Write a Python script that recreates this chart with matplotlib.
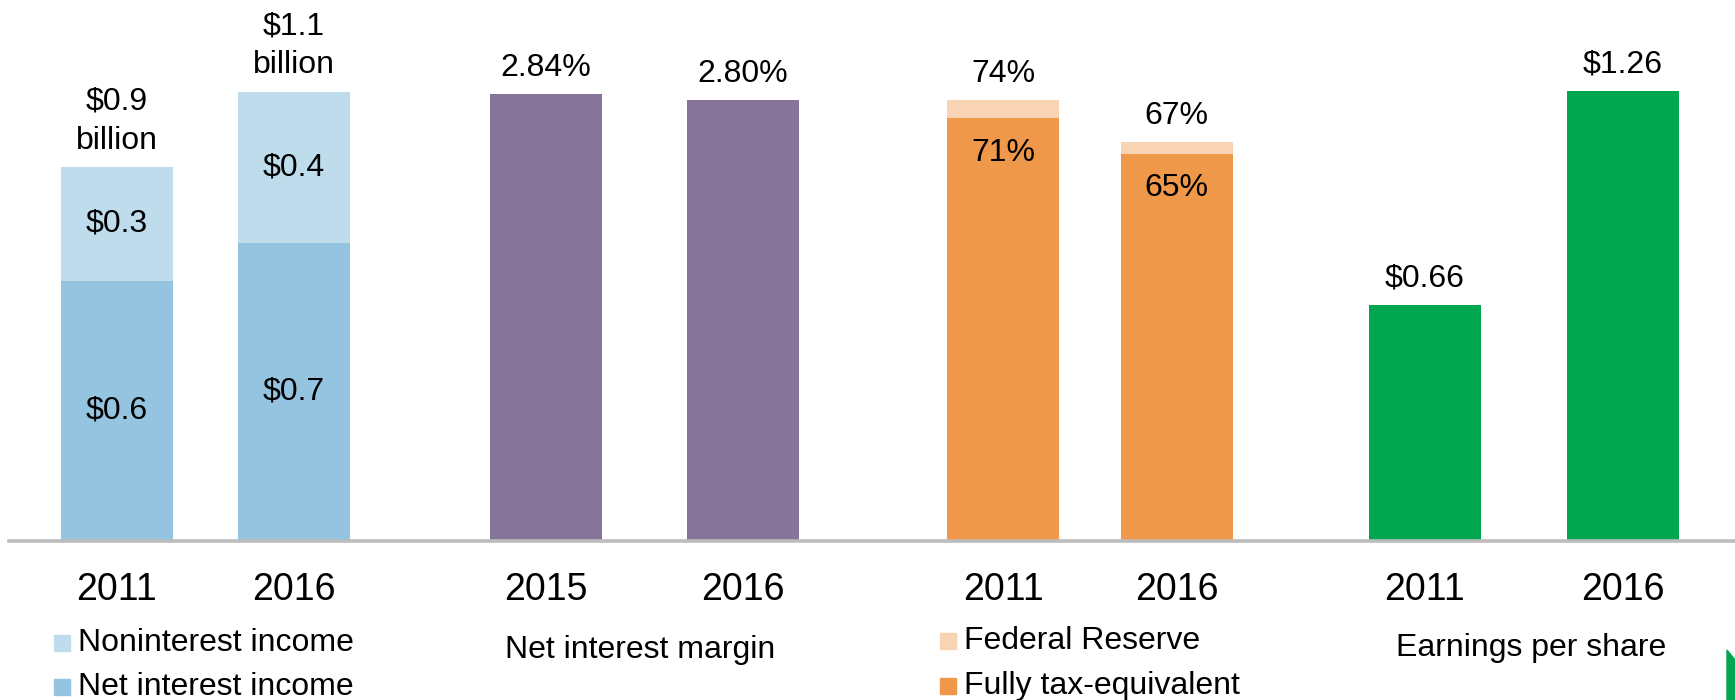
import matplotlib.pyplot as plt
from matplotlib.patches import Rectangle, Polygon
from matplotlib.lines import Line2D

plt.rcParams['font.family'] = ['Liberation Sans', 'DejaVu Sans']

# revenue ($ billions)
rev_years = ['2011', '2016']
net_interest = [0.62, 0.71]
noninterest = [0.27, 0.36]
rev_total_labels = ['$0.9\nbillion', '$1.1\nbillion']
nii_labels = ['$0.6', '$0.7']
nonint_labels = ['$0.3', '$0.4']

# net interest margin (%)
nim_years = ['2015', '2016']
nim = [2.84, 2.80]

# efficiency ratio (%)
eff_years = ['2011', '2016']
eff_fte = [71, 65]
eff_fed = [74, 67]

# earnings per share ($)
eps_years = ['2011', '2016']
eps = [0.66, 1.26]

W, H = 1735, 700
BASE = 541  # baseline, px from top

light_blue = '#bedcec'
dark_blue = '#95c4e1'
purple = '#86749b'
light_orange = '#f9d4b4'
orange = '#f0984a'
green = '#00a650'

fig = plt.figure(figsize=(W / 100, H / 100), dpi=100)


def panel(c0, c1, ymax, labels):
    sp = c1 - c0
    ax = fig.add_axes([(c0 - sp / 2) / W, (H - BASE) / H, 2 * sp / W, BASE / H])
    ax.set_xlim(-0.5, 1.5)
    ax.set_ylim(0, ymax)
    for s in ax.spines.values():
        s.set_visible(False)
    ax.set_yticks([])
    ax.set_xticks([0, 1], labels)
    ax.tick_params(axis='x', length=0, pad=22, labelsize=27)
    return ax, 112 / sp


def above(ax, x, y, txt):
    ax.annotate(txt, (x, y), xytext=(0, 8), textcoords='offset points',
                ha='center', va='bottom', fontsize=23, linespacing=1.4)


# panel 1: revenue
ax, bw = panel(116.5, 294, 541 / 420, rev_years)
x = [0, 1]
ax.bar(x, net_interest, bw, color=dark_blue)
ax.bar(x, noninterest, bw, bottom=net_interest, color=light_blue)
for i in x:
    top = net_interest[i] + noninterest[i]
    above(ax, i, top, rev_total_labels[i])
    ax.text(i, net_interest[i] / 2, nii_labels[i], ha='center', va='center', fontsize=23)
    ax.text(i, net_interest[i] + noninterest[i] / 2, nonint_labels[i],
            ha='center', va='center', fontsize=23)

# panel 2: net interest margin
ax, bw = panel(546, 743, 541 / 157.4, nim_years)
ax.bar(x, nim, bw, color=purple)
for i in x:
    above(ax, i, nim[i], f'{nim[i]:.2f}%')

# panel 3: efficiency ratio
ax, bw = panel(1003, 1176.5, 541 / 5.96, eff_years)
ax.bar(x, eff_fte, bw, color=orange)
ax.bar(x, [f - t for f, t in zip(eff_fed, eff_fte)], bw, bottom=eff_fte, color=light_orange)
for i in x:
    above(ax, i, eff_fed[i], f'{eff_fed[i]}%')
    ax.annotate(f'{eff_fte[i]}%', (i, eff_fte[i]), xytext=(0, -25), textcoords='offset points',
                ha='center', va='center', fontsize=23)

# panel 4: EPS
ax, bw = panel(1424.5, 1623, 541 / 357.5, eps_years)
ax.bar(x, eps, bw, color=green)
for i in x:
    above(ax, i, eps[i], f'${eps[i]:.2f}')

# baseline
fig.add_artist(Line2D([9 / W, 1], [1 - BASE / H] * 2, color='#bcbcbc', lw=2.6))


# legends / captions
def key(px, py, color, txt):
    fig.add_artist(Rectangle((px / W, 1 - (py + 8) / H), 16 / W, 16 / H, color=color,
                             transform=fig.transFigure))
    fig.text((px + 24) / W, 1 - py / H, txt, fontsize=23, va='center')


key(54, 643, light_blue, 'Noninterest income')
key(54, 687, dark_blue, 'Net interest income')
key(940, 641, light_orange, 'Federal Reserve')
key(940, 686, orange, 'Fully tax-equivalent')
fig.text(640 / W, 1 - 650 / H, 'Net interest margin', fontsize=23, ha='center', va='center')
fig.text(1531 / W, 1 - 648 / H, 'Earnings per share', fontsize=23, ha='center', va='center')

# corner logo fragment
fig.add_artist(Polygon([(1727 / W, 1 - 650 / H), (1, 1 - 660 / H), (1, 0), (1727 / W, 0)],
                       closed=True, color=green, transform=fig.transFigure))

fig.savefig('out.png', dpi=100)
